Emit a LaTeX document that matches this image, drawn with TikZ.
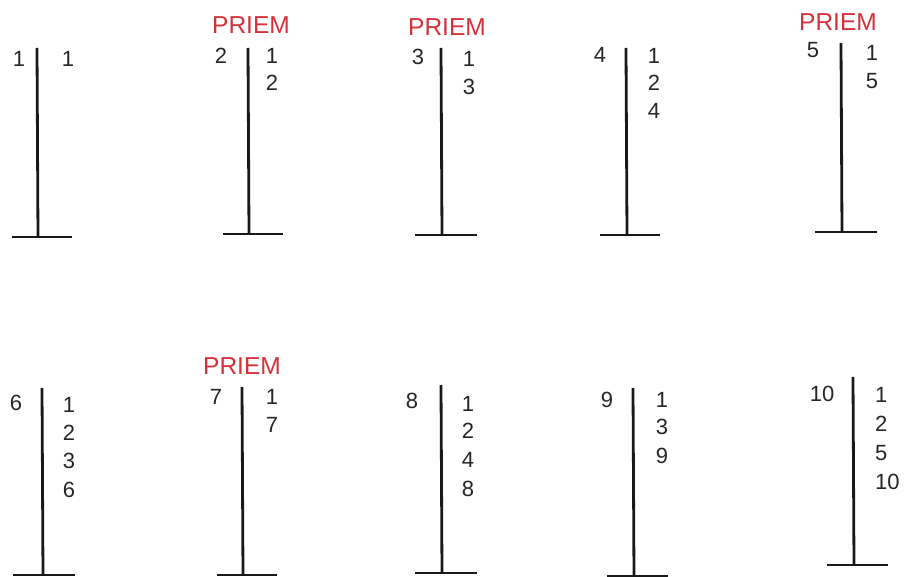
\documentclass[tikz,border=0pt]{standalone}
\usepackage{fontspec}
\setmainfont{Liberation Sans}
\definecolor{priemred}{RGB}{214,48,58}
\begin{document}
\begin{tikzpicture}[x=1pt,y=-1pt,
  num/.style={inner sep=0pt,font=\fontsize{22}{22}\selectfont,text=black!85},
  prm/.style={inner sep=0pt,font=\fontsize{24.5}{24.5}\selectfont,text=priemred},
  pole/.style={line width=2.8pt,black!90},
  foot/.style={line width=2.8pt,black!90}]
\useasboundingbox (0,0) rectangle (906,577);
% ---- row 1 ----
% post 1
\draw[pole] (37,48) coordinate (t1) -- (38,237) coordinate (b1);
\draw[foot] (12,237) coordinate (l1) -- (72,237) coordinate (r1);
\node[num] (n1) at (19,59) {1};
\node[num] (d1a) at (68,59) {1};
% post 2
\draw[pole] (248,48) coordinate (t2) -- (249,234) coordinate (b2);
\draw[foot] (223,234) coordinate (l2) -- (283,234) coordinate (r2);
\node[prm] (p2) at (251,25) {PRIEM};
\node[num] (n2) at (221,56) {2};
\node[num] (d2a) at (272,56) {1};
\node[num] (d2b) at (272,83) {2};
% post 3
\draw[pole] (441,48) coordinate (t3) -- (442,235) coordinate (b3);
\draw[foot] (415,235) coordinate (l3) -- (477,235) coordinate (r3);
\node[prm] (p3) at (447,27) {PRIEM};
\node[num] (n3) at (418,57) {3};
\node[num] (d3a) at (469,59) {1};
\node[num] (d3b) at (469,87) {3};
% post 4
\draw[pole] (626,48) coordinate (t4) -- (627,235) coordinate (b4);
\draw[foot] (600,235) coordinate (l4) -- (660,235) coordinate (r4);
\node[num] (n4) at (600,55) {4};
\node[num] (d4a) at (654,56) {1};
\node[num] (d4b) at (654,83) {2};
\node[num] (d4c) at (654,111) {4};
% post 5
\draw[pole] (841,43) coordinate (t5) -- (842,232) coordinate (b5);
\draw[foot] (815,232) coordinate (l5) -- (877,232) coordinate (r5);
\node[prm] (p5) at (838,22) {PRIEM};
\node[num] (n5) at (813,50) {5};
\node[num] (d5a) at (872,53) {1};
\node[num] (d5b) at (872,81) {5};
% ---- row 2 ----
% post 6
\draw[pole] (42,388) coordinate (t6) -- (43,575) coordinate (b6);
\draw[foot] (13,575) coordinate (l6) -- (75,575) coordinate (r6);
\node[num] (n6) at (16,403) {6};
\node[num] (d6a) at (69,405) {1};
\node[num] (d6b) at (69,433) {2};
\node[num] (d6c) at (69,461) {3};
\node[num] (d6d) at (69,490) {6};
% post 7
\draw[pole] (242,387) coordinate (t7) -- (243,575) coordinate (b7);
\draw[foot] (217,575) coordinate (l7) -- (277,575) coordinate (r7);
\node[prm] (p7) at (242,366) {PRIEM};
\node[num] (n7) at (216,397) {7};
\node[num] (d7a) at (272,397) {1};
\node[num] (d7b) at (272,425) {7};
% post 8
\draw[pole] (441,385) coordinate (t8) -- (442,573) coordinate (b8);
\draw[foot] (415,573) coordinate (l8) -- (477,573) coordinate (r8);
\node[num] (n8) at (412,401) {8};
\node[num] (d8a) at (468,404) {1};
\node[num] (d8b) at (468,431) {2};
\node[num] (d8c) at (468,460) {4};
\node[num] (d8d) at (468,489) {8};
% post 9
\draw[pole] (633,388) coordinate (t9) -- (634,576) coordinate (b9);
\draw[foot] (607,576) coordinate (l9) -- (668,576) coordinate (r9);
\node[num] (n9) at (607,400) {9};
\node[num] (d9a) at (662,400) {1};
\node[num] (d9b) at (662,427) {3};
\node[num] (d9c) at (662,456) {9};
% post 10
\draw[pole] (853,377) coordinate (t10) -- (854,565) coordinate (b10);
\draw[foot] (827,565) coordinate (l10) -- (888,565) coordinate (r10);
\node[num] (n10) at (822,394) {10};
\node[num,anchor=west] (d10a) at (875,395) {1};
\node[num,anchor=west] (d10b) at (875,424) {2};
\node[num,anchor=west] (d10c) at (875,453) {5};
\node[num,anchor=west] (d10d) at (875,482) {10};
\end{tikzpicture}
\end{document}
